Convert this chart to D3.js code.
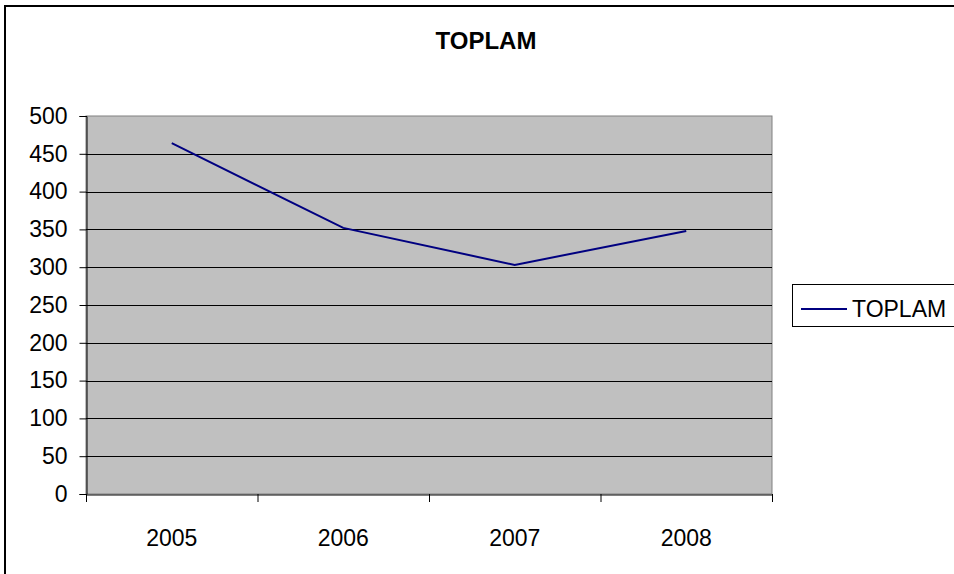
<!DOCTYPE html>
<html><head><meta charset="utf-8">
<script src="https://cdn.jsdelivr.net/npm/d3@7"></script>
<style>body{margin:0;background:#fff;}svg{display:block;font-family:"Liberation Sans",Arial,sans-serif;}</style>
</head><body>
<svg id="c" width="954" height="574"></svg>
<script>
const categories = ["2005","2006","2007","2008"];
const values = [464, 352, 303, 348];
const yTicks = [0,50,100,150,200,250,300,350,400,450,500];
const seriesName = "TOPLAM";
const titleText = "TOPLAM";

const svg = d3.select("#c");
const L = 86, R = 772, T = 116, B = 494;

svg.append("rect").attr("x",5).attr("y",6).attr("width",980).attr("height",590)
  .attr("fill","#fff").attr("stroke","#000").attr("stroke-width",2);

const x = d3.scaleBand().domain(categories).range([L,R]);
const y = d3.scaleLinear().domain([0,500]).range([B,T]);

svg.append("rect").attr("x",L).attr("y",T).attr("width",R-L).attr("height",B-T)
  .attr("fill","#C0C0C0").attr("stroke","#808080").attr("stroke-width",1);

svg.append("g").selectAll("line").data(yTicks.filter(d=>d>0 && d<500)).join("line")
  .attr("x1",L).attr("x2",R).attr("y1",d=>Math.round(y(d))+0.5).attr("y2",d=>Math.round(y(d))+0.5)
  .attr("stroke","#000").attr("stroke-width",1);

const yAxis = svg.append("g").attr("transform",`translate(${L+0.5},0)`)
  .call(d3.axisLeft(y).tickValues(yTicks).tickSize(7).tickPadding(12));
yAxis.select(".domain").attr("stroke","#000");
yAxis.selectAll("text").attr("font-size",23).attr("fill","#000").attr("font-family","Liberation Sans, Arial, sans-serif");

const xAxis = svg.append("g").attr("transform",`translate(0,${B+0.5})`)
  .call(d3.axisBottom(x).tickSize(0).tickPadding(35));
xAxis.select(".domain").attr("stroke","#000");
xAxis.selectAll("text").attr("font-size",23).attr("fill","#000").attr("font-family","Liberation Sans, Arial, sans-serif");
const bounds = categories.map(c=>x(c)).concat([R]);
svg.append("g").selectAll("line").data(bounds).join("line")
  .attr("x1",d=>d+0.5).attr("x2",d=>d+0.5).attr("y1",B).attr("y2",B+8)
  .attr("stroke","#000").attr("stroke-width",1);

const line = d3.line().x((d,i)=>x(categories[i])+x.bandwidth()/2).y(d=>y(d));
svg.append("path").datum(values).attr("d",line).attr("fill","none")
  .attr("stroke","#000080").attr("stroke-width",2);

svg.append("text").attr("x",486).attr("y",49).attr("text-anchor","middle")
  .attr("font-size",24).attr("font-weight","bold").text(titleText);

const lg = svg.append("g");
lg.append("rect").attr("x",792.5).attr("y",284.5).attr("width",180).attr("height",42)
  .attr("fill","#fff").attr("stroke","#000").attr("stroke-width",1);
lg.append("line").attr("x1",801).attr("x2",847).attr("y1",309).attr("y2",309)
  .attr("stroke","#000080").attr("stroke-width",2);
lg.append("text").attr("x",852).attr("y",317).attr("font-size",23).text(seriesName);
</script>
</body></html>
